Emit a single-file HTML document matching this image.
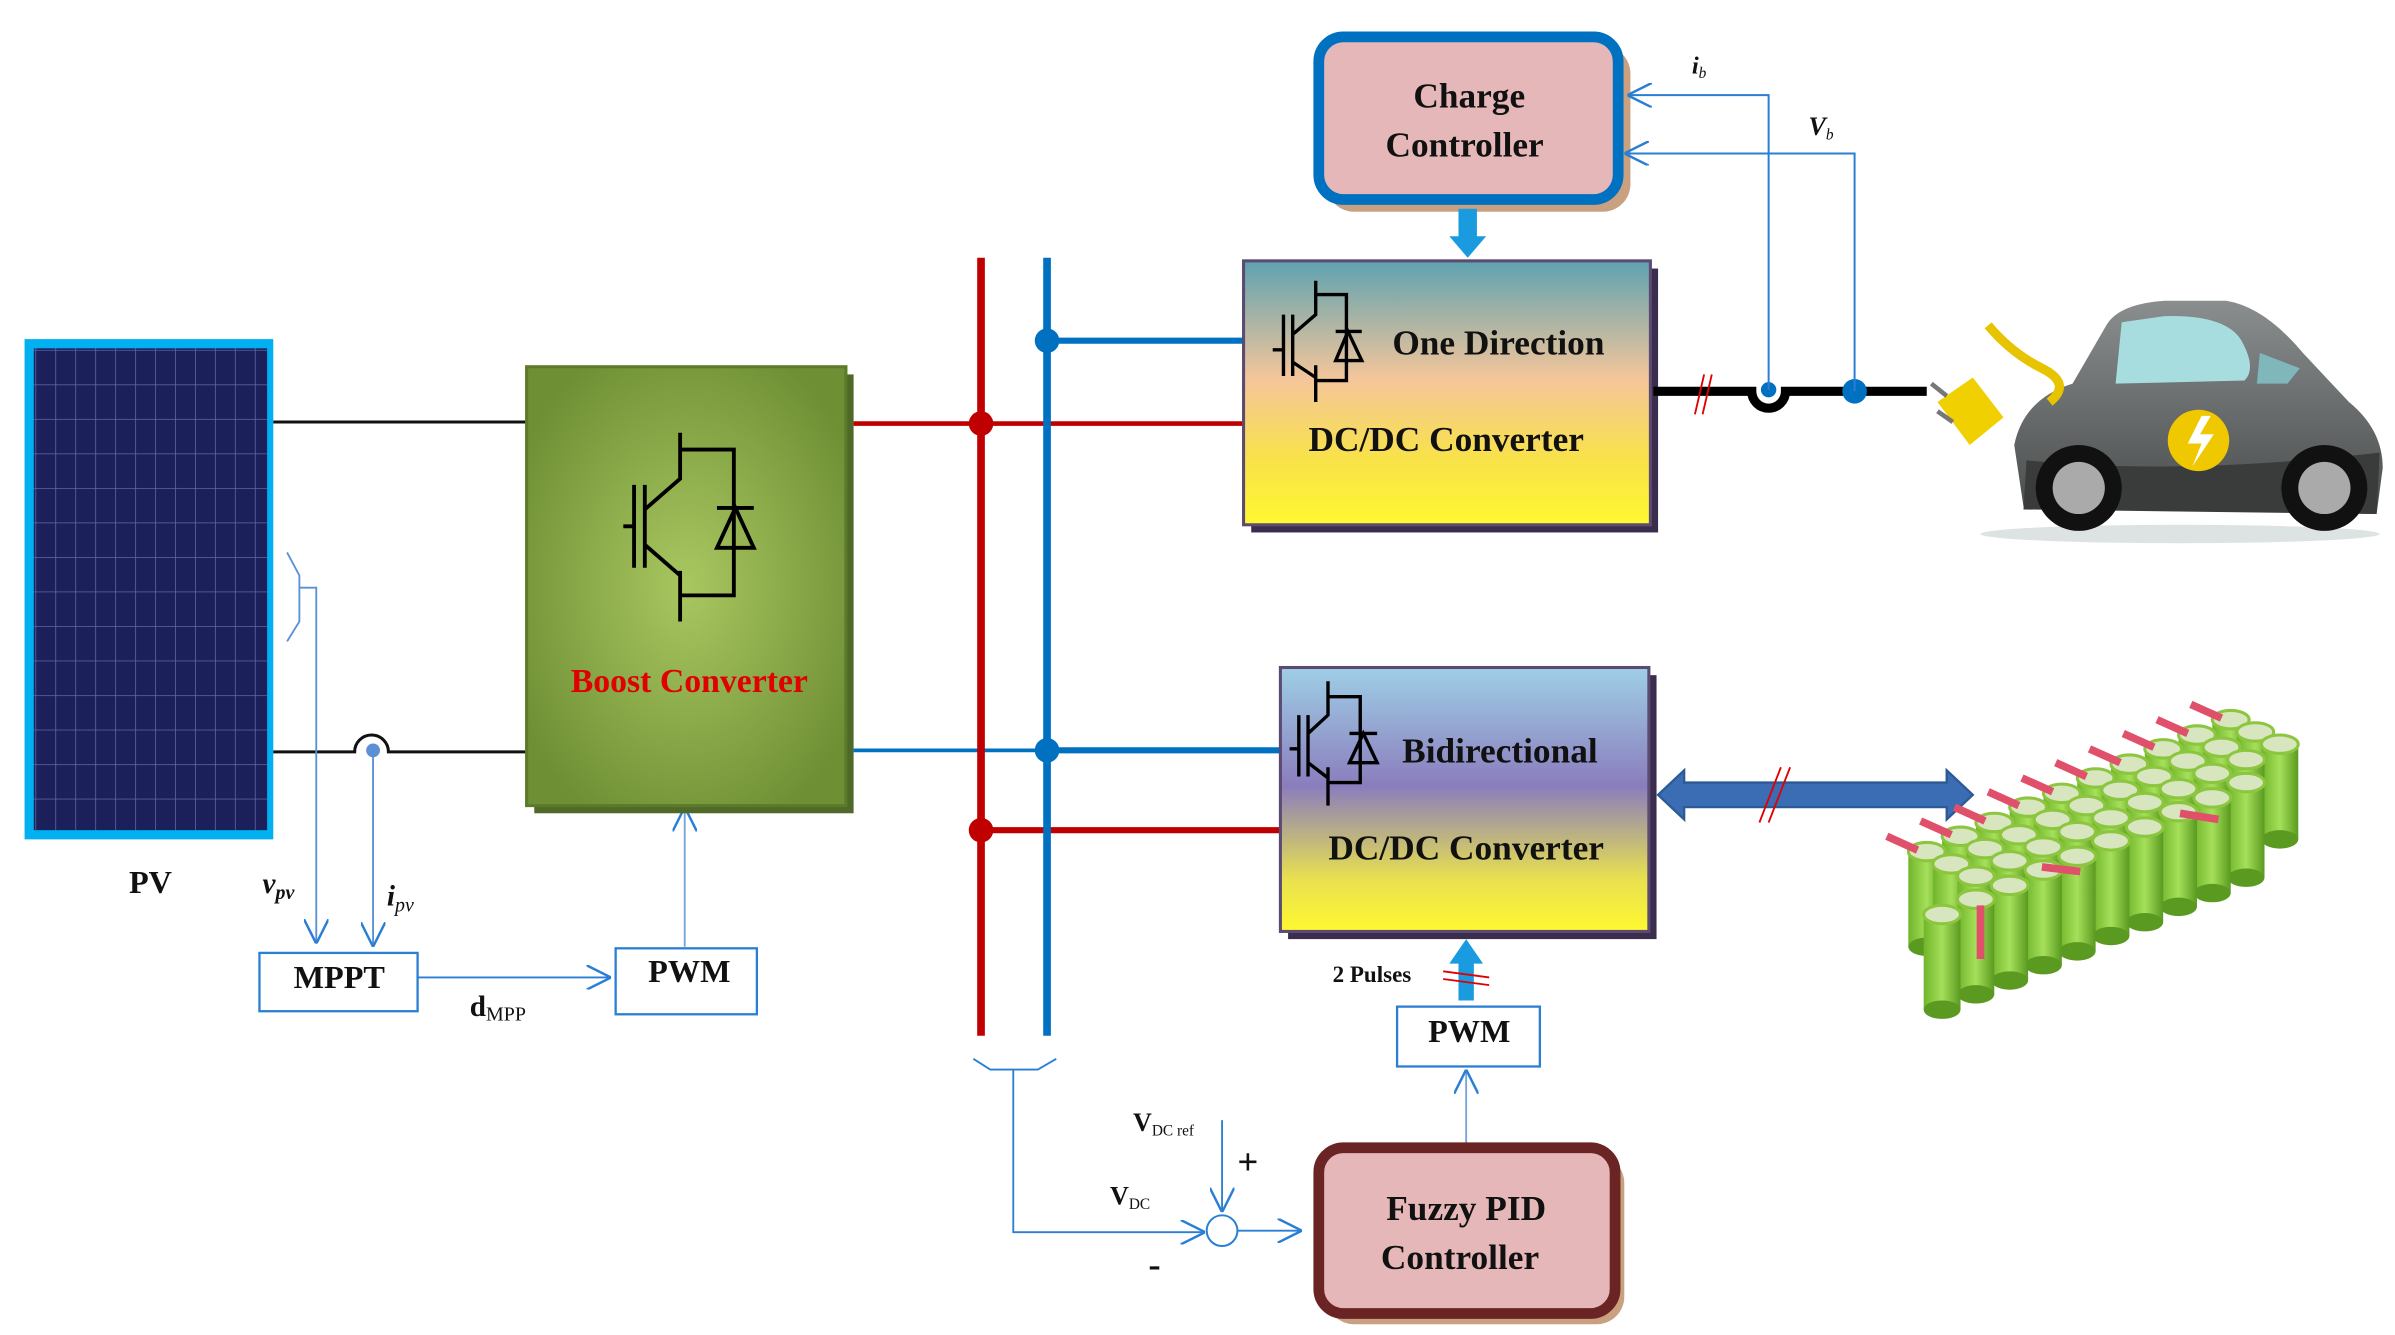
<!DOCTYPE html>
<html><head><meta charset="utf-8"><style>
html,body{margin:0;padding:0;background:#fff;}
svg{display:block;}
text{font-family:"Liberation Serif",serif;font-weight:bold;}
</style></head><body>
<svg width="2395" height="1335" viewBox="0 0 1560 870" preserveAspectRatio="none" xmlns="http://www.w3.org/2000/svg" xmlns:xlink="http://www.w3.org/1999/xlink">
<defs>
<radialGradient id="gB" cx="50%" cy="50%" r="60%"><stop offset="0" stop-color="#a9c760"/><stop offset="1" stop-color="#6f8f35"/></radialGradient>
<linearGradient id="gO" x1="0" y1="0" x2="0" y2="1"><stop offset="0" stop-color="#5ea2b0"/><stop offset="0.45" stop-color="#f5c69a"/><stop offset="0.75" stop-color="#f8e24a"/><stop offset="1" stop-color="#fff830"/></linearGradient>
<linearGradient id="gD" x1="0" y1="0" x2="0" y2="1"><stop offset="0" stop-color="#9fcfe6"/><stop offset="0.45" stop-color="#8a7dbd"/><stop offset="0.8" stop-color="#e8e050"/><stop offset="1" stop-color="#fff830"/></linearGradient>
<linearGradient id="gC" x1="0" y1="0" x2="1" y2="0"><stop offset="0" stop-color="#6fb52a"/><stop offset="0.5" stop-color="#a6e05a"/><stop offset="1" stop-color="#5a9a20"/></linearGradient>
<linearGradient id="gCar" x1="0" y1="0" x2="0" y2="1"><stop offset="0" stop-color="#8a8e8e"/><stop offset="1" stop-color="#4a4c4c"/></linearGradient>
<pattern id="cells" width="13" height="22.5" patternUnits="userSpaceOnUse" x="23" y="228"><rect width="13" height="22.5" fill="#1b1f5a"/><path d="M0 0H13M0 0V22.5" stroke="#5d6aa8" stroke-width="1"/></pattern>
<marker id="arL" viewBox="0 0 10 10" refX="10" refY="5" markerWidth="16" markerHeight="16" markerUnits="userSpaceOnUse" orient="auto"><path d="M0 0L10 5L0 10" fill="none" stroke="#2a7fd4" stroke-width="1"/></marker>
<g id="cyl"><rect x="-12" y="0" width="24" height="62" fill="url(#gC)"/><ellipse cx="0" cy="62" rx="12" ry="6" fill="#5a9a20"/><ellipse cx="0" cy="0" rx="12" ry="6" fill="#d8e6c0" stroke="#8cc63f" stroke-width="2"/></g>
<g id="cylT"><use xlink:href="#cyl"/><path d="M-6 -1L-26 -10" stroke="#e0506a" stroke-width="5"/></g>
</defs>

<!-- PV panel -->
<rect x="16" y="221" width="162" height="326" fill="#00b0f0"/>
<rect x="22" y="227" width="152" height="314" fill="url(#cells)"/>
<text x="98" y="582" font-size="21" text-anchor="middle" fill="#111">PV</text>

<path d="M178 275H343" stroke="#111" stroke-width="2" fill="none"/>
<path d="M178 490H231 A11 11 0 0 1 253 490 H343" stroke="#111" stroke-width="2" fill="none"/>
<path d="M187 360 L195 375 V405 L187 418" stroke="#5b8fd6" stroke-width="1.2" fill="none"/>
<path d="M195 383H206V615" stroke="#5b8fd6" stroke-width="1.2" fill="none" marker-end="url(#arL)"/>
<circle cx="243" cy="489" r="4.5" fill="#5b8fd6"/>
<path d="M243 489V617" stroke="#5b8fd6" stroke-width="1.2" fill="none" marker-end="url(#arL)"/>
<text x="171" y="582" font-size="19" font-style="italic" font-weight="normal" fill="#111">v<tspan font-size="13" dy="4">pv</tspan></text>
<text x="252" y="590" font-size="19" font-style="italic" fill="#111">i<tspan font-size="13" dy="4" font-weight="normal">pv</tspan></text>

<rect x="169" y="621" width="103" height="38" fill="#fff" stroke="#2a7fd4" stroke-width="1.5"/>
<text x="221" y="644" font-size="21" text-anchor="middle" fill="#111">MPPT</text>
<path d="M272 637H398" stroke="#2a7fd4" stroke-width="1.2" fill="none" marker-end="url(#arL)"/>
<text x="306" y="662" font-size="19" fill="#111">d<tspan font-size="13" font-weight="normal" dy="3">MPP</tspan></text>
<rect x="401" y="618" width="92" height="43" fill="#fff" stroke="#2a7fd4" stroke-width="1.5"/>
<text x="449" y="640" font-size="21" text-anchor="middle" fill="#111">PWM</text>
<path d="M446 617V526" stroke="#7aa3d8" stroke-width="1.2" fill="none" marker-end="url(#arL)"/>

<!-- Boost -->
<rect x="348" y="244" width="208" height="286" fill="#4f6a28"/>
<rect x="343" y="239" width="208" height="286" fill="url(#gB)" stroke="#5b7a2a" stroke-width="2"/>
<g stroke="#000" stroke-width="2.5" fill="none">
<path d="M406 343H413M413 316V370M420 316V370M420 332L443 312V282M443 293H478V388H443M443 372V405M420 355L443 375"/>
<path d="M467 357H491L479 331Z M467 331H491"/>
</g>
<text x="449" y="451" font-size="22" text-anchor="middle" fill="#e00000">Boost Converter</text>

<!-- Buses -->
<path d="M556 276H810" stroke="#c00000" stroke-width="3" fill="none"/>
<path d="M556 489H834" stroke="#0070c0" stroke-width="2.5" fill="none"/>
<path d="M682 222H810" stroke="#0070c0" stroke-width="4" fill="none"/>
<path d="M682 489H834" stroke="#0070c0" stroke-width="4" fill="none"/>
<path d="M639 541H834" stroke="#c00000" stroke-width="4" fill="none"/>
<path d="M639 168V675" stroke="#c00000" stroke-width="5" fill="none"/>
<path d="M682 168V675" stroke="#0070c0" stroke-width="5" fill="none"/>
<circle cx="639" cy="276" r="8" fill="#c00000"/>
<circle cx="639" cy="541" r="8" fill="#c00000"/>
<circle cx="682" cy="222" r="8" fill="#0070c0"/>
<circle cx="682" cy="489" r="8" fill="#0070c0"/>

<path d="M634 690L645 697H676L688 690" stroke="#2a7fd4" stroke-width="1.2" fill="none"/>
<path d="M660 697V803H785" stroke="#2a7fd4" stroke-width="1.2" fill="none" marker-end="url(#arL)"/>
<circle cx="796" cy="802" r="10" fill="#fff" stroke="#2a7fd4" stroke-width="1.3"/>
<path d="M796 730V790" stroke="#2a7fd4" stroke-width="1.2" fill="none" marker-end="url(#arL)"/>
<path d="M806 802H848" stroke="#2a7fd4" stroke-width="1.2" fill="none" marker-end="url(#arL)"/>
<text x="738" y="737" font-size="17" fill="#111">V<tspan font-size="10" font-weight="normal" dy="3">DC ref</tspan></text>
<text x="723" y="785" font-size="17" fill="#111">V<tspan font-size="10" font-weight="normal" dy="3">DC</tspan></text>
<text x="806" y="765" font-size="24" fill="#111">+</text>
<text x="748" y="832" font-size="24" fill="#111">-</text>

<!-- Charge controller -->
<rect x="864" y="30" width="198" height="108" rx="18" fill="#c9a080"/>
<rect x="859" y="24" width="195" height="106" rx="16" fill="#e6b7b8" stroke="#0070c0" stroke-width="7"/>
<text x="957" y="70" font-size="23" text-anchor="middle" fill="#111">Charge</text>
<text x="954" y="102" font-size="23" text-anchor="middle" fill="#111">Controller</text>
<path d="M950 136V154H944L956 168L968 154H962V136Z" fill="#1a9be0"/>

<rect x="815" y="175" width="265" height="172" fill="#3b2d4e"/>
<rect x="810" y="170" width="265" height="172" fill="url(#gO)" stroke="#5b4a72" stroke-width="2"/>
<g stroke="#000" stroke-width="2.2" fill="none">
<path d="M829 228H836M836 205V245M842 205V245M842 218L857 205V183M857 192H877V248H857M857 238V262M842 236L857 246"/>
<path d="M870 235H887L878 216Z M870 216H887"/>
</g>
<text x="976" y="231" font-size="23" text-anchor="middle" fill="#111">One Direction</text>
<text x="942" y="294" font-size="23" text-anchor="middle" fill="#111">DC/DC Converter</text>

<path d="M1077 255H1141 A11 11 0 0 0 1163 255 H1255" stroke="#000" stroke-width="6" fill="none"/>
<path d="M1104 270L1110 244M1109 270L1115 244" stroke="#e00000" stroke-width="1.2"/>
<circle cx="1152" cy="254" r="5" fill="#0070c0"/>
<circle cx="1208" cy="255" r="8" fill="#0070c0"/>
<path d="M1152 254V62H1060" stroke="#2a7fd4" stroke-width="1.3" fill="none" marker-end="url(#arL)"/>
<path d="M1208 255V100H1058" stroke="#2a7fd4" stroke-width="1.3" fill="none" marker-end="url(#arL)"/>
<text x="1102" y="48" font-size="16" font-style="italic" fill="#111">i<tspan font-size="10" font-weight="normal" dy="3">b</tspan></text>
<text x="1178" y="88" font-size="17" font-style="italic" fill="#111">V<tspan font-size="10" font-weight="normal" dy="3">b</tspan></text>

<!-- Car -->
<ellipse cx="1420" cy="348" rx="130" ry="6" fill="#dde2e2"/>
<path d="M1318 330 L1312 290 Q1318 260 1350 250 L1372 212 Q1380 198 1410 196 L1450 196 Q1475 200 1500 230 L1530 262 Q1552 280 1552 305 L1548 335 Z" fill="url(#gCar)"/>
<path d="M1320 300 Q1420 310 1550 295 L1548 335 L1318 332Z" fill="#3a3c3c"/>
<path d="M1382 210 L1378 250 L1462 248 Q1470 240 1460 222 Q1450 205 1410 206Z" fill="#a8dde0"/>
<path d="M1472 230 L1498 240 L1490 250 L1470 250Z" fill="#7fb7ba"/>
<circle cx="1354" cy="318" r="28" fill="#111"/><circle cx="1354" cy="318" r="17" fill="#aaa"/>
<circle cx="1514" cy="318" r="28" fill="#111"/><circle cx="1514" cy="318" r="17" fill="#aaa"/>
<circle cx="1432" cy="287" r="20" fill="#f0c800"/>
<path d="M1434 271L1425 289H1434L1428 304L1442 283H1433L1440 271Z" fill="#fff"/>
<path d="M1295 212 Q1310 230 1330 240 Q1350 250 1335 262" stroke="#e8c400" stroke-width="6" fill="none"/>
<path d="M1262 262 L1285 246 L1305 272 L1283 290Z" fill="#f0d000"/>
<path d="M1258 250 L1268 258 M1262 268 L1272 275" stroke="#777" stroke-width="3"/>

<!-- Bidirectional -->
<rect x="839" y="440" width="240" height="172" fill="#3b2d4e"/>
<rect x="834" y="435" width="240" height="172" fill="url(#gD)" stroke="#5b4a72" stroke-width="2"/>
<g stroke="#000" stroke-width="2.2" fill="none">
<path d="M840 488H846M846 466V506M852 466V506M852 478L865 466V444M865 454H886V510H865M865 500V525M852 497L865 507"/>
<path d="M879 497H897L888 478Z M879 478H897"/>
</g>
<text x="977" y="497" font-size="23" text-anchor="middle" fill="#111">Bidirectional</text>
<text x="955" y="560" font-size="23" text-anchor="middle" fill="#111">DC/DC Converter</text>

<path d="M1080 518 L1097 502 V510 H1268 V502 L1285 518 L1268 534 V526 H1097 V534 Z" fill="#3a6db4" stroke="#2c5a95" stroke-width="1.5"/>
<path d="M1146 536L1160 500M1152 536L1166 500" stroke="#e00000" stroke-width="1.2"/>

<!-- Battery pack -->
<g>
<use xlink:href="#cylT" x="1453" y="469"/><use xlink:href="#cylT" x="1431" y="479"/><use xlink:href="#cylT" x="1409" y="488"/><use xlink:href="#cylT" x="1387" y="498"/><use xlink:href="#cylT" x="1365" y="507"/><use xlink:href="#cylT" x="1343" y="517"/><use xlink:href="#cylT" x="1321" y="526"/><use xlink:href="#cylT" x="1299" y="536"/><use xlink:href="#cylT" x="1277" y="545"/><use xlink:href="#cylT" x="1255" y="555"/>
<use xlink:href="#cyl" x="1469" y="477"/><use xlink:href="#cyl" x="1447" y="487"/><use xlink:href="#cyl" x="1425" y="496"/><use xlink:href="#cyl" x="1403" y="506"/><use xlink:href="#cyl" x="1381" y="515"/><use xlink:href="#cyl" x="1359" y="525"/><use xlink:href="#cyl" x="1337" y="534"/><use xlink:href="#cyl" x="1315" y="544"/><use xlink:href="#cyl" x="1293" y="553"/><use xlink:href="#cyl" x="1271" y="563"/>
<use xlink:href="#cyl" x="1485" y="485"/><use xlink:href="#cyl" x="1463" y="495"/><use xlink:href="#cyl" x="1441" y="504"/><use xlink:href="#cyl" x="1419" y="514"/><use xlink:href="#cyl" x="1397" y="523"/><use xlink:href="#cyl" x="1375" y="533"/><use xlink:href="#cyl" x="1353" y="542"/><use xlink:href="#cyl" x="1331" y="552"/><use xlink:href="#cyl" x="1309" y="561"/><use xlink:href="#cyl" x="1287" y="571"/>
<use xlink:href="#cyl" x="1463" y="510"/><use xlink:href="#cyl" x="1441" y="520"/><use xlink:href="#cyl" x="1419" y="529"/><use xlink:href="#cyl" x="1397" y="539"/><use xlink:href="#cyl" x="1375" y="548"/><use xlink:href="#cyl" x="1353" y="558"/><use xlink:href="#cyl" x="1331" y="567"/><use xlink:href="#cyl" x="1309" y="577"/><use xlink:href="#cyl" x="1287" y="586"/><use xlink:href="#cyl" x="1265" y="596"/>
</g>
<g stroke="#e0506a" stroke-width="5"><path d="M1290 590V625M1330 565L1355 568M1420 530L1445 534"/></g>

<!-- PWM bottom -->
<path d="M950 652V628H944L955 612L966 628H960V652Z" fill="#1a9be0"/>
<path d="M940 633L970 637M940 638L970 642" stroke="#e00000" stroke-width="1.2"/>
<text x="868" y="640" font-size="15" fill="#111">2 Pulses</text>
<rect x="910" y="656" width="93" height="39" fill="#fff" stroke="#2a7fd4" stroke-width="1.5"/>
<text x="957" y="679" font-size="21" text-anchor="middle" fill="#111">PWM</text>
<path d="M955 745V697" stroke="#7aa3d8" stroke-width="1.2" fill="none" marker-end="url(#arL)"/>

<!-- Fuzzy PID -->
<rect x="864" y="753" width="194" height="110" rx="18" fill="#c9a080"/>
<rect x="859" y="748" width="193" height="108" rx="16" fill="#e6b7b8" stroke="#6b2424" stroke-width="7"/>
<text x="955" y="795" font-size="23" text-anchor="middle" fill="#111">Fuzzy PID</text>
<text x="951" y="827" font-size="23" text-anchor="middle" fill="#111">Controller</text>
</svg>
</body></html>
